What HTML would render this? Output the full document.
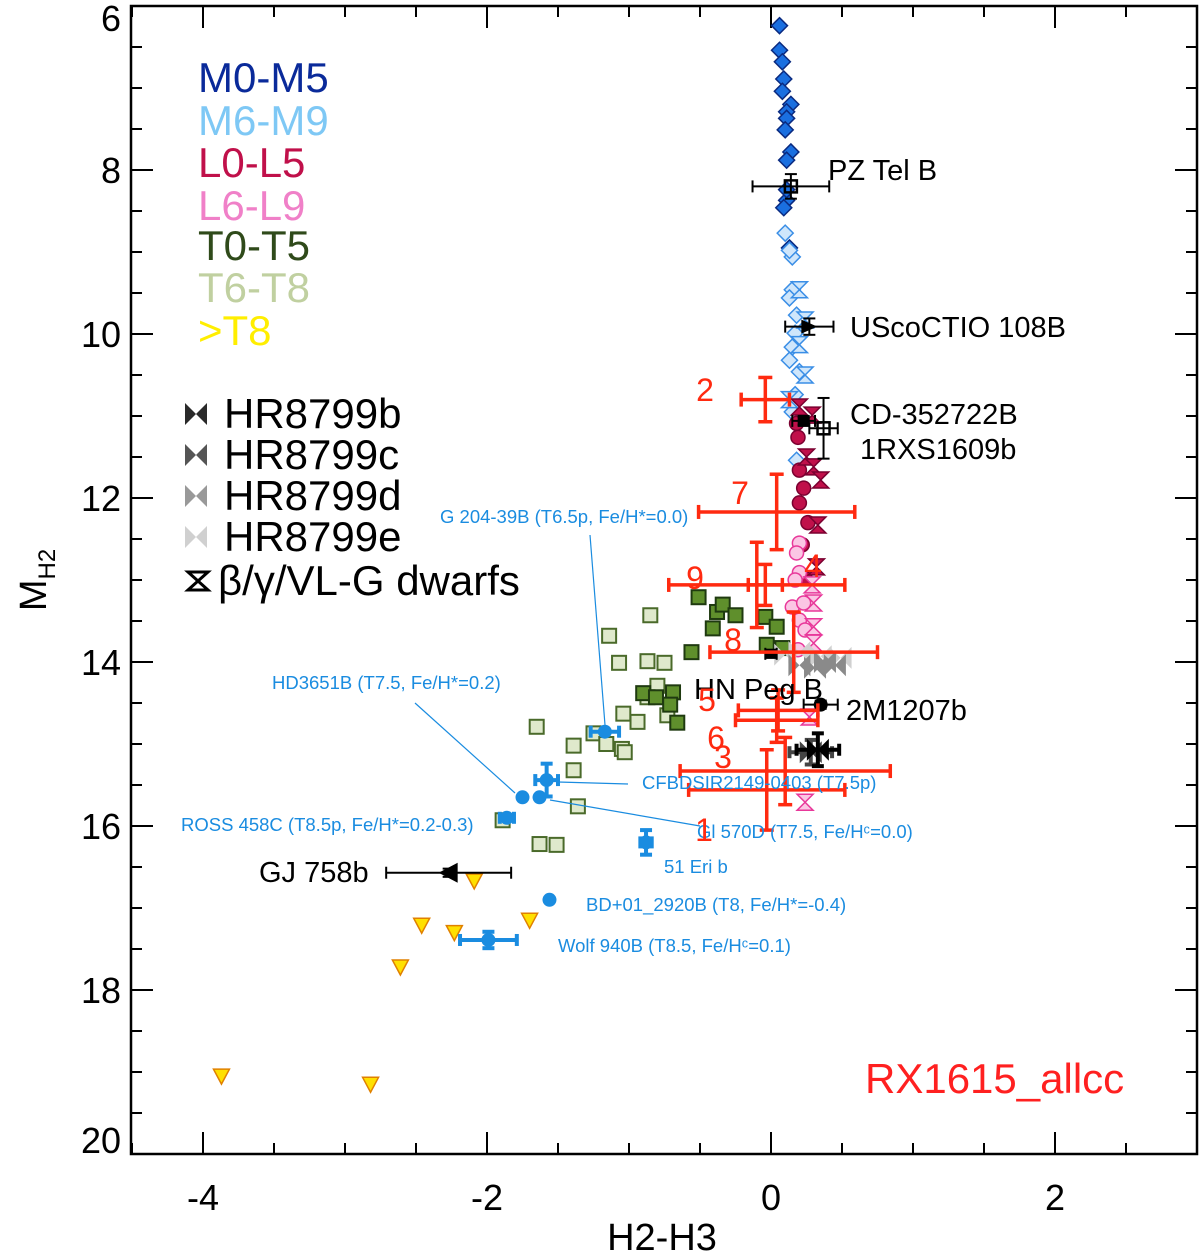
<!DOCTYPE html>
<html><head><meta charset="utf-8">
<style>
html,body{margin:0;padding:0;background:#fff;}
svg{display:block;font-family:"Liberation Sans",Arial,sans-serif;}
</style></head>
<body>
<svg id="chart" width="1200" height="1253" viewBox="0 0 1200 1253" xmlns="http://www.w3.org/2000/svg">
<g id="axes"></g>
<g id="marks"></g>
<g id="legend">
  <text x="198" y="92" font-size="42" fill="#0a2a9a">M0-M5</text>
  <text x="198" y="135" font-size="42" fill="#7ec8f5">M6-M9</text>
  <text x="198" y="177" font-size="42" fill="#c0104a">L0-L5</text>
  <text x="198" y="220" font-size="42" fill="#f080c8">L6-L9</text>
  <text x="198" y="260" font-size="42" fill="#2f4a1a">T0-T5</text>
  <text x="198" y="302" font-size="42" fill="#c0d0a0">T6-T8</text>
  <text x="198" y="345" font-size="42" fill="#ffee00">&gt;T8</text>
  <text x="224" y="428" font-size="42" fill="#000">HR8799b</text>
  <text x="224" y="469" font-size="42" fill="#000">HR8799c</text>
  <text x="224" y="510" font-size="42" fill="#000">HR8799d</text>
  <text x="224" y="551" font-size="42" fill="#000">HR8799e</text>
  <text x="218" y="595" font-size="42" fill="#000">β/γ/VL-G dwarfs</text>
</g>
</svg>
<script>
// ---- data ----
const m05X=[0.06,0.06,0.08,0.09,0.08,0.14,0.11,0.11,0.10,0.14,0.11,0.11,0.09,0.13,0.11];
const m05Y=[6.24,6.54,6.68,6.89,7.04,7.20,7.29,7.37,7.51,7.78,7.88,8.37,8.46,8.95,8.24];
const m69X=[0.10,0.15,0.13,0.15,0.13,0.18,0.17,0.15,0.13,0.20,0.17,0.15,0.18];
const m69Y=[8.77,9.06,8.98,9.46,9.56,9.77,9.99,10.16,10.32,10.46,10.74,10.95,11.54];
const m69yX=[0.20,0.24,0.20,0.24,0.13];
const m69yY=[9.46,9.83,10.13,10.5,10.8];
const l05X=[0.18,0.19,0.23,0.20,0.26,0.24,0.20,0.22];
const l05Y=[11.09,11.26,11.88,12.06,12.3,12.98,11.66,12.57];
const l05yX=[0.20,0.25,0.30,0.35,0.33,0.32,0.29];
const l05yY=[10.89,11.5,11.62,11.78,12.33,12.84,10.99];
const l69X=[0.20,0.18,0.20,0.17,0.15,0.23,0.20,0.24,0.19];
const l69Y=[12.55,12.67,12.91,13.0,13.33,13.28,13.49,13.61,13.85];
const l69yX=[0.30,0.30,0.30,0.27,0.24,0.29];
const l69yY=[13.28,13.57,13.77,14.67,15.71,13.06];
const t05X=[-0.51,-0.38,-0.34,-0.25,-0.41,-0.04,0.04,-0.56,-0.03,0.08,-0.69,-0.71,-0.66,-0.90,-0.81];
const t05Y=[13.21,13.39,13.30,13.43,13.59,13.45,13.57,13.88,13.79,13.83,14.37,14.52,14.74,14.38,14.43];
const t68X=[-0.85,-1.14,-1.07,-0.87,-0.75,-0.80,-0.87,-1.04,-0.94,-0.73,-1.65,-1.39,-1.25,-1.16,-1.05,-1.39,-1.36,-1.89,-1.63,-1.51,-1.03];
const t68Y=[13.43,13.68,14.01,13.99,14.01,14.29,14.43,14.63,14.73,14.65,14.79,15.02,14.87,15.0,15.06,15.32,15.76,15.93,16.22,16.23,15.1];
const gtT8X=[-2.09,-2.46,-2.23,-1.70,-2.61,-3.87,-2.82];
const gtT8Y=[16.67,17.21,17.30,17.15,17.72,19.05,19.15];
const hrEX=[0.20,0.35,0.10,0.49];
const hrEY=[13.88,13.93,13.91,13.95];
const hrDX=[0.45,0.31,0.38,0.20];
const hrDY=[14.04,14.07,14.0,14.04];
const blueNames=["G 204-39B","CFBDSIR2149","HD3651B","GI 570D","ROSS 458C","51 Eri b","BD+01_2920B","Wolf 940B"];
const blueX=[-1.17,-1.58,-1.75,-1.63,-1.86,-0.88,-1.56,-1.99];
const blueY=[14.85,15.44,15.65,15.65,15.90,16.2,16.9,17.39];
const blueXErr=[0.1,0.08,0,0,0.05,0.04,0,0.2];
const blueYErr=[0,0.2,0,0,0,0.15,0,0.1];
const compNames=["PZ Tel B","UScoCTIO 108B","CD-352722B","1RXS1609b","HN Peg B","2M1207b","GJ 758b","HR8799c","HR8799b"];
const compX=[0.14,0.27,0.23,0.37,0.0,0.35,-2.27,0.28,0.33];
const compY=[8.2,9.91,11.06,11.15,13.9,14.52,16.57,15.1,15.07];
const compXErr=[0.27,0.17,0.08,0.1,0.04,0.12,0.44,0.15,0.15];
const compYErr=[0.15,0.1,0.05,0.37,0.05,0.05,0.05,0.15,0.2];
const candNames=["1","2","3","4","5","6","7","8","9"];
const candX=[-0.03,-0.04,0.10,-0.04,0.05,0.04,0.04,0.16,-0.10];
const candY=[15.56,10.8,15.33,13.06,14.59,14.71,12.17,13.88,13.06];
const candXErr=[0.55,0.17,0.74,0.12,0.28,0.29,0.55,0.59,0.62];
const candYErr=[0.49,0.27,0.41,0.25,0.25,0.27,0.46,0.49,0.52];
const xTicks=[-4,-2,0,2];
const yTicks=[6,8,10,12,14,16,18,20];

const X0=131,X1=1197,Y0=6,Y1=1154;
const sx=v=>771+v*142;
const sy=v=>6+(v-6)*82;
const NS="http://www.w3.org/2000/svg";
function mk(tag,attrs,parent){const e=document.createElementNS(NS,tag);for(const k in attrs)e.setAttribute(k,attrs[k]);parent.appendChild(e);return e;}
const axes=document.getElementById('axes');
const marks=document.getElementById('marks');

let fr=mk('rect',{x:X0,y:Y0,width:X1-X0,height:Y1-Y0,fill:'none',stroke:'#000','stroke-width':2.5},axes);


for(let v=-4.5;v<=3.001;v+=0.5){
  const px=sx(v); if(px<X0+1||px>X1-1)continue;
  const maj=Math.abs(v-Math.round(v))<1e-6&&Math.round(v)%2===0;
  const L=maj?22:11;
  mk('line',{x1:px,y1:Y1,x2:px,y2:Y1-L,stroke:'#000','stroke-width':2},axes);
  mk('line',{x1:px,y1:Y0,x2:px,y2:Y0+L,stroke:'#000','stroke-width':2},axes);
}
xTicks.forEach(v=>{
  const t=mk('text',{x:sx(v),y:1210,'font-size':36,'text-anchor':'middle',fill:'#000'},axes);
  t.textContent=String(v);
  
  
});
for(let v=6;v<=20;v+=0.5){
  const py=sy(v); if(py<Y0+1||py>Y1-1)continue;
  const maj=(v%2===0);const L=maj?22:11;
  mk('line',{x1:X0,y1:py,x2:X0+L,y2:py,stroke:'#000','stroke-width':2},axes);
  mk('line',{x1:X1,y1:py,x2:X1-L,y2:py,stroke:'#000','stroke-width':2},axes);
}
yTicks.forEach(v=>{
  let cy=sy(v); if(v===6)cy=18; if(v===20)cy=1140;
  const t=mk('text',{x:121,y:cy+13,'font-size':36,'text-anchor':'end',fill:'#000'},axes);
  t.textContent=String(v);
  
  
});
let xt=mk('text',{x:662,y:1250,'font-size':38,'text-anchor':'middle',fill:'#000'},axes);
xt.textContent='H2-H3';


let yt=mk('text',{transform:'translate(46,580) rotate(-90)','font-size':38,'text-anchor':'middle',fill:'#000'},axes);
yt.innerHTML='M<tspan font-size="24" dy="9">H2</tspan>';



function diamond(cx,cy,f,s){return mk('polygon',{points:`${cx},${cy-8} ${cx+8},${cy} ${cx},${cy+8} ${cx-8},${cy}`,fill:f,stroke:s,'stroke-width':1.5},marks);}
function circle(cx,cy,f,s){return mk('circle',{cx:cx,cy:cy,r:7,fill:f,stroke:s,'stroke-width':1.5},marks);}
function square(cx,cy,f,s){return mk('rect',{x:cx-7,y:cy-7,width:14,height:14,fill:f,stroke:s,'stroke-width':2},marks);}
function hourglass(cx,cy,f,s){return mk('polygon',{points:`${cx-8},${cy-8} ${cx+8},${cy-8} ${cx-8},${cy+8} ${cx+8},${cy+8}`,fill:f,stroke:s,'stroke-width':1.5},marks);}
function bow(cx,cy,f){return mk('path',{d:`M${cx-11},${cy-11} L${cx},${cy} L${cx-11},${cy+11}Z M${cx+11},${cy-11} L${cx},${cy} L${cx+11},${cy+11}Z`,fill:f},marks);}
function tri(cx,cy){return mk('polygon',{points:`${cx-8},${cy-7} ${cx+8},${cy-7} ${cx},${cy+8}`,fill:'#ffe000',stroke:'#e08000','stroke-width':1.5},marks);}
function errbar(cx,cy,ex,ey,col,w,cap){
  const g=mk('g',{stroke:col,'stroke-width':w},marks);
  if(ex>0){const a=sx(-ex)-sx(0);mk('line',{x1:cx+a,y1:cy,x2:cx-a,y2:cy},g);
    mk('line',{x1:cx+a,y1:cy-cap,x2:cx+a,y2:cy+cap},g);mk('line',{x1:cx-a,y1:cy-cap,x2:cx-a,y2:cy+cap},g);}
  if(ey>0){const b=ey*82;mk('line',{x1:cx,y1:cy-b,x2:cx,y2:cy+b},g);
    mk('line',{x1:cx-cap,y1:cy-b,x2:cx+cap,y2:cy-b},g);mk('line',{x1:cx-cap,y1:cy+b,x2:cx+cap,y2:cy+b},g);}
  return g;
}
function plot(xs,ys,fn,f,s,name){
  xs.forEach((v,i)=>{const e=fn(sx(v),sy(ys[i]),f,s);
    
    });
}
plot(m05X,m05Y,diamond,'#1a6fe0','#0a2a80','m0-m5-point');
plot(m69X,m69Y,diamond,'#cfe6fb','#3a8ee6','m6-m9-point');
plot(m69yX,m69yY,hourglass,'#cfe6fb','#3a8ee6','m6-m9-young-point');
plot(l05X,l05Y,circle,'#c0104a','#7a0030','l0-l5-point');
plot(l05yX,l05yY,hourglass,'#c0104a','#7a0030','l0-l5-young-point');
plot(l69X,l69Y,circle,'#fbc6e4','#e8389a','l6-l9-point');
plot(l69yX,l69yY,hourglass,'#fbc6e4','#e8389a','l6-l9-young-point');
plot(t68X,t68Y,square,'#dfe9cc','#4a6a2a','t6-t8-point');
plot(t05X,t05Y,square,'#5f8f2c','#1f3a10','t0-t5-point');
plot(gtT8X,gtT8Y,tri,null,null,'gt-t8-point');
plot(hrEX,hrEY,bow,'#d0d0d0',null,'hr8799e-point');
plot(hrDX,hrDY,bow,'#8a8a8a',null,'hr8799d-point');

const leaders=[[590,535,605,725],[415,703,515,793],[558,782,628,784],[550,800,700,826]];
leaders.forEach(l=>{const e=mk('line',{x1:l[0],y1:l[1],x2:l[2],y2:l[3],stroke:'#1a8ce0','stroke-width':1.2},marks);
  
  });

compNames.forEach((n,i)=>{
  const cx=sx(compX[i]),cy=sy(compY[i]);
  const col=n==='HR8799c'?'#444':'#000';
  const g=errbar(cx,cy,compXErr[i],compYErr[i],col,n.startsWith('HR')?4:2,6);
  
  
  let e;
  if(n.startsWith('HR'))e=bow(cx,cy,col);
  else if(n==='PZ Tel B'||n==='1RXS1609b')e=mk('rect',{x:cx-6,y:cy-6,width:12,height:12,fill:'none',stroke:'#000','stroke-width':2.5},marks);
  else if(n==='CD-352722B')e=mk('rect',{x:cx-6,y:cy-6,width:12,height:12,fill:'#000'},marks);
  else if(n==='UScoCTIO 108B')e=mk('polygon',{points:`${cx-8},${cy-7} ${cx+8},${cy} ${cx-8},${cy+7}`,fill:'#000'},marks);
  else if(n==='GJ 758b')e=mk('polygon',{points:`${cx+9},${cy-10} ${cx-10},${cy} ${cx+9},${cy+10}`,fill:'#000'},marks);
  else if(n==='HN Peg B')e=mk('rect',{x:cx-6,y:cy-4,width:12,height:8,fill:'#000'},marks);
  else e=mk('circle',{cx:cx,cy:cy,r:7,fill:'#000'},marks);
  
  
});

blueNames.forEach((n,i)=>{
  const cx=sx(blueX[i]),cy=sy(blueY[i]);
  const g=errbar(cx,cy,blueXErr[i],blueYErr[i],'#1a8ce0',4,6);
  
  
  const e=mk('circle',{cx:cx,cy:cy,r:7,fill:'#1a8ce0'},marks);
  
  
});

candNames.forEach((n,i)=>{
  const g=errbar(sx(candX[i]),sy(candY[i]),candXErr[i],candYErr[i],'#ff2a10',3.5,7);
  
  
});

const labels=[
 ['PZ Tel B',828,180,29,'#000','start'],['UScoCTIO 108B',850,337,29,'#000','start'],
 ['CD-352722B',850,424,29,'#000','start'],['1RXS1609b',860,459,29,'#000','start'],
 ['HN Peg B',694,699,29,'#000','start'],['2M1207b',846,720,29,'#000','start'],
 ['GJ 758b',259,882,29,'#000','start'],
 ['G 204-39B (T6.5p, Fe/H*=0.0)',440,523,18.5,'#1a8ce0','start'],
 ['HD3651B (T7.5, Fe/H*=0.2)',272,689,18.5,'#1a8ce0','start'],
 ['CFBDSIR2149-0403 (T7.5p)',642,789,18.5,'#1a8ce0','start'],
 ['ROSS 458C (T8.5p,  Fe/H*=0.2-0.3)',181,831,18.5,'#1a8ce0','start'],
 ['Gl 570D (T7.5, Fe/Hᶜ=0.0)',697,838,18.5,'#1a8ce0','start'],
 ['51 Eri b',664,873,18.5,'#1a8ce0','start'],
 ['BD+01_2920B (T8, Fe/H*=-0.4)',586,911,18.5,'#1a8ce0','start'],
 ['Wolf 940B (T8.5, Fe/Hᶜ=0.1)',558,952,18.5,'#1a8ce0','start'],
 ['2',705,401,32,'#ff2a10','middle'],['7',740,504,32,'#ff2a10','middle'],
 ['9',695,589,32,'#ff2a10','middle'],['4',813,577,32,'#ff2a10','middle'],
 ['8',733,651,32,'#ff2a10','middle'],['5',707,711,32,'#ff2a10','middle'],
 ['6',716,749,32,'#ff2a10','middle'],['3',723,768,32,'#ff2a10','middle'],
 ['1',704,841,32,'#ff2a10','middle'],
 ['RX1615_allcc',865,1093,42,'#ff2020','start']
];
labels.forEach(l=>{
  const t=mk('text',{x:l[1],y:l[2],'font-size':l[3],fill:l[4],'text-anchor':l[5]},marks);
  t.textContent=l[0];
  
  
});

const leg=document.getElementById('legend');
[['#2a2a2a',414],['#555',455],['#999',496],['#d0d0d0',537]].forEach(c=>{
  const p=mk('path',{d:`M185,${c[1]-11} L196,${c[1]} L185,${c[1]+11}Z M207,${c[1]-11} L196,${c[1]} L207,${c[1]+11}Z`,fill:c[0]},leg);
  
  
});
const hg=mk('path',{d:'M188,572 L208,572 L188,590 L208,590 Z',fill:'none',stroke:'#000','stroke-width':3},leg);


</script>
</body></html>
